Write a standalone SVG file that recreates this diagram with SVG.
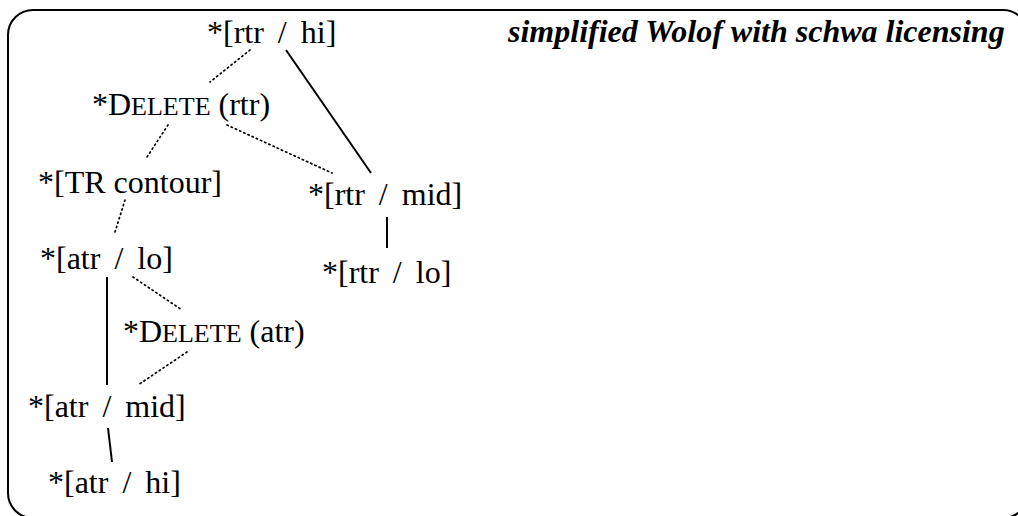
<svg xmlns="http://www.w3.org/2000/svg" width="1018" height="516" viewBox="0 0 1018 516">
<style>
text{font-family:"Liberation Serif","Times New Roman",serif;font-size:32px;fill:#000}
.sc{font-size:26px}
.title{font-weight:bold;font-style:italic}
.solid{stroke:#000;stroke-width:2;fill:none}
.dot{stroke:#000;stroke-width:1.7;fill:none;stroke-dasharray:1.3 3.3;stroke-linecap:round}
</style>
<rect x="8" y="10" width="1020" height="508" rx="25" ry="25" fill="none" stroke="#000" stroke-width="2"/>
<text class="title" x="508" y="42">simplified Wolof with schwa licensing</text>
<g id="connectors">
<line class="dot" x1="250" y1="50" x2="210" y2="82"/>
<line class="solid" x1="286" y1="50" x2="371" y2="173"/>
<line class="dot" x1="168" y1="125" x2="147" y2="157"/>
<line class="dot" x1="227" y1="125" x2="332" y2="173"/>
<line class="dot" x1="125" y1="200" x2="115" y2="232"/>
<line class="solid" x1="387" y1="217" x2="387" y2="248"/>
<line class="solid" x1="107" y1="277" x2="107" y2="385"/>
<line class="dot" x1="133" y1="277" x2="182" y2="310"/>
<line class="dot" x1="187" y1="352" x2="138" y2="385"/>
<line class="solid" x1="108" y1="428" x2="112" y2="462"/>
</g>
<g id="rtr-hi"><text x="207" y="43">*[rtr<tspan dx="6"> / </tspan><tspan dx="6">hi]</tspan></text></g>
<g id="delete-rtr"><text x="92" y="115">*D<tspan class="sc">ELETE</tspan> (rtr)</text></g>
<g id="tr-contour"><text x="38" y="193">*[TR contour]</text></g>
<g id="rtr-mid"><text x="308" y="205">*[rtr<tspan dx="6"> / </tspan><tspan dx="6">mid]</tspan></text></g>
<g id="atr-lo"><text x="40" y="269">*[atr<tspan dx="6"> / </tspan><tspan dx="6">lo]</tspan></text></g>
<g id="rtr-lo"><text x="322" y="283">*[rtr<tspan dx="6"> / </tspan><tspan dx="6">lo]</tspan></text></g>
<g id="delete-atr"><text x="123" y="342">*D<tspan class="sc">ELETE</tspan> (atr)</text></g>
<g id="atr-mid"><text x="28" y="417">*[atr<tspan dx="6"> / </tspan><tspan dx="6">mid]</tspan></text></g>
<g id="atr-hi"><text x="48" y="493">*[atr<tspan dx="6"> / </tspan><tspan dx="6">hi]</tspan></text></g>
</svg>
